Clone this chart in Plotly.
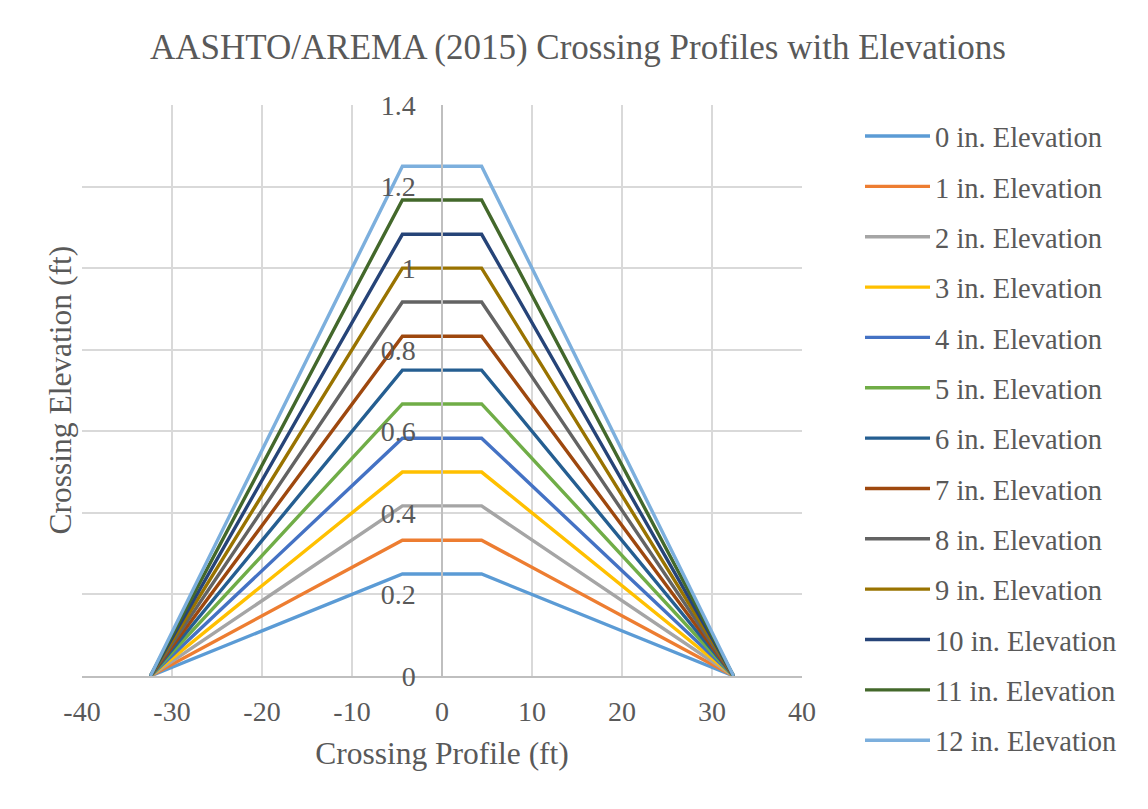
import plotly.graph_objects as go

# ---- data ----
x_profile = [-32.4, -4.4, 4.4, 32.4]          # crossing profile stations (ft)
elevation_labels = [f"{i} in. Elevation" for i in range(13)]
crest_heights = [0.25, 0.333, 0.417, 0.5, 0.583, 0.667, 0.75,
                 0.833, 0.917, 1.0, 1.083, 1.167, 1.25]   # ft
series_colors = ["#5B9BD5", "#ED7D31", "#A5A5A5", "#FFC000", "#4472C4", "#70AD47",
                 "#255E91", "#9E480E", "#636363", "#997300", "#264478", "#43682B",
                 "#7CAFDD"]
x_ticks = [-40, -30, -20, -10, 0, 10, 20, 30, 40]
x_tick_text = ["-40", "-30", "-20", "-10", "0", "10", "20", "30", "40"]
y_ticks = [0, 0.2, 0.4, 0.6, 0.8, 1.0, 1.2, 1.4]

FONT = "Liberation Serif, Times New Roman, serif"
TXT = "#595959"

fig = go.Figure()
for name, h, c in zip(elevation_labels, crest_heights, series_colors):
    fig.add_trace(go.Scatter(
        x=x_profile, y=[0, h, h, 0], mode="lines", name=name,
        line=dict(color=c, width=3.4), legendgroup=name))

OFF = 8  # page body offset
W, H = 1148 - OFF, 809 - OFF
L, T = 82 - OFF, 105 - OFF
PW, PH = 720, 571
fig.update_layout(
    width=W, height=H,
    margin=dict(l=L, r=W - L - PW, t=T, b=H - T - PH),
    paper_bgcolor="white", plot_bgcolor="white",
    font=dict(family=FONT, color=TXT, size=28),
    title=dict(text="AASHTO/AREMA (2015) Crossing Profiles with Elevations",
               x=0.5, xanchor="center", y=1 - (47 - OFF) / H, yanchor="middle",
               font=dict(size=35, color=TXT, family=FONT)),
    showlegend=True,
    legend=dict(x=(860 - OFF - L) / PW, xanchor="left", y=1 - (111 - OFF - T) / PH,
                yanchor="top", maxheight=2000,
                tracegroupgap=10.3, itemwidth=65, font=dict(size=28.5, color=TXT, family=FONT),
                bgcolor="rgba(0,0,0,0)"),
    xaxis=dict(range=[-40, 40], tickvals=x_ticks, ticktext=x_tick_text, showgrid=True,
               gridcolor="#D9D9D9", gridwidth=1.5, zeroline=False, showline=True,
               linecolor="#BFBFBF", linewidth=1.5, ticks="", ticklabelstandoff=10,
               tickfont=dict(size=28, color=TXT),
               title=dict(text="Crossing Profile (ft)", font=dict(size=31.5, color=TXT),
                          standoff=16)),
    yaxis=dict(range=[0, 1.4], tickvals=y_ticks, showgrid=True, gridcolor="#D9D9D9",
               gridwidth=1.5, zeroline=False, showline=True, linecolor="#BFBFBF",
               linewidth=1.5, anchor="free", position=0.5, ticks="",
               ticklabelstandoff=20, tickfont=dict(size=28, color=TXT)),
    annotations=[dict(text="Crossing Elevation (ft)", textangle=-90,
                      xref="paper", yref="paper", x=(60 - OFF - L) / PW, y=0.5,
                      xanchor="center", yanchor="middle", showarrow=False,
                      font=dict(size=31.5, color=TXT, family=FONT))],
)

fig.write_html("out.html")
